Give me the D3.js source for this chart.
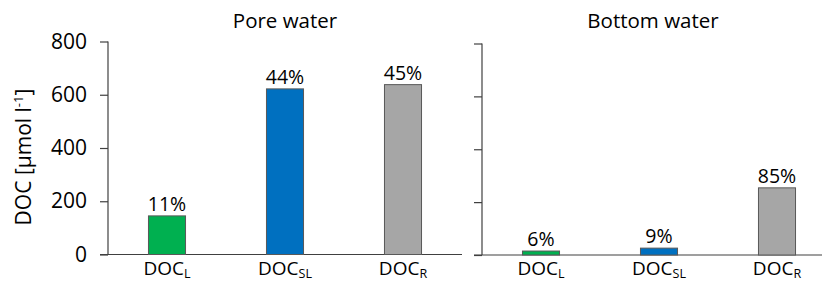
<!DOCTYPE html>
<html><head><meta charset="utf-8">
<script src="https://cdn.jsdelivr.net/npm/d3@7"></script>
<style>body{margin:0;background:#fff}svg{display:block}text{font-family:"Open Sans","Noto Sans",sans-serif;fill:#000}</style>
</head><body><svg id="c" width="823" height="282"></svg>
<script>
const categories = ["L", "SL", "R"];
const poreValues = [145, 622, 638];
const porePct = ["11%", "44%", "45%"];
const bottomValues = [15, 26, 254];
const bottomPct = ["6%", "9%", "85%"];
const yTicks = [0, 200, 400, 600, 800];
const colors = ["#00B050", "#0070C0", "#A6A6A6"];
const titles = ["Pore water", "Bottom water"];

const svg = d3.select("#c");
const axisColor = "#404040";

const panels = [
  {x0: 108, x1: 462, y0: 254.5, y1: 41.5, vals: poreValues, pct: porePct, title: titles[0], labels: true, lineEnd: 462},
  {x0: 482, x1: 836, y0: 255, y1: 43.5, vals: bottomValues, pct: bottomPct, title: titles[1], labels: false, lineEnd: 822}
];

panels.forEach(p => {
  const x = d3.scaleBand().domain(categories).range([p.x0, p.x1]).paddingInner(0.686).paddingOuter(0.343);
  const y = d3.scaleLinear().domain([0, 800]).range([p.y0, p.y1]);
  const g = svg.append("g");

  const ax = d3.axisLeft(y).tickValues(yTicks).tickSize(8).tickPadding(13)
    .tickFormat(p.labels ? d3.format("d") : () => "");
  const ag = g.append("g").attr("transform", `translate(${p.x0},0)`).call(ax);
  ag.select(".domain").remove();
  ag.selectAll(".tick line").attr("stroke", axisColor).attr("stroke-width", 1.2);
  ag.selectAll(".tick text").style("font-size", "21px").attr("fill", "#000");
  g.append("line").attr("x1", p.x0).attr("x2", p.x0).attr("y1", y(800)).attr("y2", y(0))
    .attr("stroke", axisColor).attr("stroke-width", 1.2);
  g.append("line").attr("x1", p.x0 - 8).attr("x2", p.lineEnd).attr("y1", y(0)).attr("y2", y(0))
    .attr("stroke", axisColor).attr("stroke-width", 1.2);

  g.selectAll("rect.bar").data(p.vals).join("rect").attr("class", "bar")
    .attr("x", (d, i) => x(categories[i]))
    .attr("width", x.bandwidth())
    .attr("y", d => y(d))
    .attr("height", d => y(0) - y(d))
    .attr("fill", (d, i) => colors[i])
    .attr("stroke", "#595959").attr("stroke-width", 1);

  g.selectAll("text.pct").data(p.vals).join("text").attr("class", "pct")
    .attr("x", (d, i) => x(categories[i]) + x.bandwidth() / 2)
    .attr("y", d => y(d) - 5)
    .attr("text-anchor", "middle").style("font-size", "19.5px")
    .text((d, i) => p.pct[i]);

  const xl = g.selectAll("text.xl").data(categories).join("text").attr("class", "xl")
    .attr("x", d => x(d) + x.bandwidth() / 2)
    .attr("y", 275)
    .attr("text-anchor", "middle").style("font-size", "19px");
  xl.append("tspan").text("DOC");
  xl.append("tspan").attr("dy", 3).style("font-size", "12.5px").text(d => d);

  g.append("text").attr("x", (p.x0 + Math.min(p.x1, 830)) / 2 + (p.labels ? 0 : -3)).attr("y", 28)
    .attr("text-anchor", "middle").style("font-size", "20.5px").text(p.title);
});

const yl = svg.append("text").attr("transform", "translate(31,157) rotate(-90)")
  .attr("text-anchor", "middle").style("font-size", "21px");
yl.append("tspan").text("DOC [µmol l");
yl.append("tspan").attr("dy", -8).style("font-size", "13px").text("-1");
yl.append("tspan").attr("dy", 8).text("]");
</script></body></html>
